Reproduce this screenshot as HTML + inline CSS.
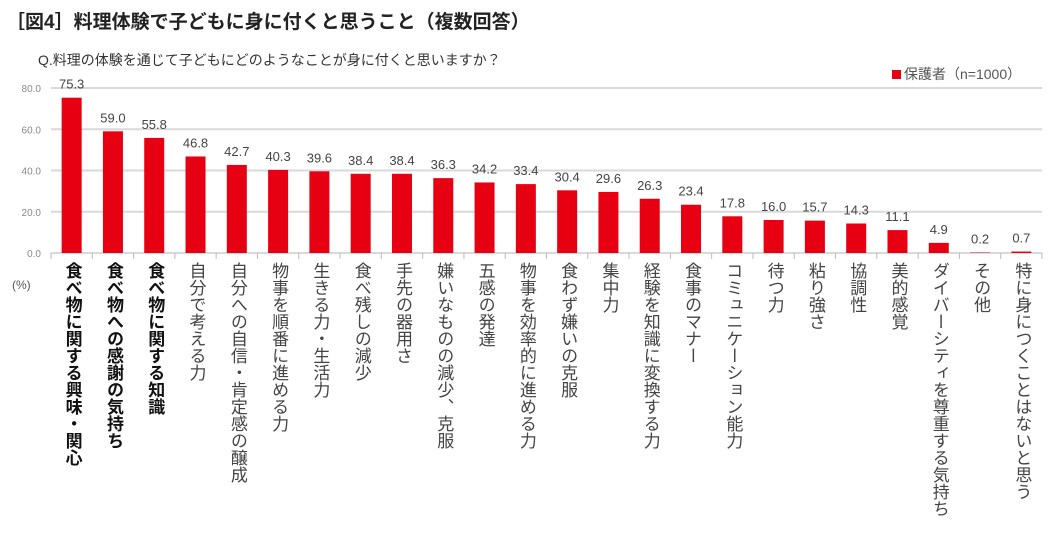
<!DOCTYPE html>
<html><head><meta charset="utf-8"><style>
body{margin:0;background:#fff;width:1064px;height:555px;overflow:hidden;font-family:"Liberation Sans","Noto Sans CJK JP",sans-serif;}
#title{position:absolute;left:6px;top:7px;font-size:19px;font-weight:bold;color:#222;}
#sub{position:absolute;left:38px;top:50px;font-size:14px;color:#333;}
#legend{position:absolute;left:892px;top:64px;font-size:14px;color:#555;}
#legend span{display:inline-block;width:9px;height:9px;background:#e60012;margin-right:3px;}
.lab{position:absolute;top:262px;writing-mode:vertical-rl;font-size:17px;line-height:20px;color:#444;white-space:nowrap;}
.lab.b{font-weight:bold;color:#111;}
</style></head><body>
<div id="title">［図4］料理体験で子どもに身に付くと思うこと（複数回答）</div>
<div id="sub">Q.料理の体験を通じて子どもにどのようなことが身に付くと思いますか？</div>
<div id="legend"><span></span>保護者（n=1000）</div>
<svg id="chart" width="1064" height="555" style="position:absolute;left:0;top:0"></svg>
<div id="labs"></div>
<script>
const categories=["食べ物に関する興味・関心","食べ物への感謝の気持ち","食べ物に関する知識","自分で考える力","自分への自信・肯定感の醸成","物事を順番に進める力","生きる力・生活力","食べ残しの減少","手先の器用さ","嫌いなものの減少、克服","五感の発達","物事を効率的に進める力","食わず嫌いの克服","集中力","経験を知識に変換する力","食事のマナー","コミュニケーション能力","待つ力","粘り強さ","協調性","美的感覚","ダイバーシティを尊重する気持ち","その他","特に身につくことはないと思う"];
const values=[75.3,59.0,55.8,46.8,42.7,40.3,39.6,38.4,38.4,36.3,34.2,33.4,30.4,29.6,26.3,23.4,17.8,16.0,15.7,14.3,11.1,4.9,0.2,0.7];
const yTicks=[0,20,40,60,80];
const NS="http://www.w3.org/2000/svg";
const svg=document.getElementById('chart');
const x0=51,x1=1042,yb=253,yt=88,ymax=80;
const bw=(x1-x0)/categories.length;
const y=v=>yb-(v/ymax)*(yb-yt);
const xc=i=>x0+bw*(i+0.5);
function mk(t,a){const e=document.createElementNS(NS,t);for(const k in a)e.setAttribute(k,a[k]);svg.appendChild(e);return e;}
yTicks.forEach(t=>{
 const l=mk('line',{x1:x0,x2:x1,y1:y(t),y2:y(t),stroke:'#d9d9d9','stroke-width':2});
 
 
 const tx=mk('text',{x:41,y:y(t)+4,'text-anchor':'end','font-size':10,fill:'#888','font-family':'Liberation Sans'});
 tx.textContent=t.toFixed(1);
 
 
});
for(let i=0;i<=categories.length;i++){
 const l=mk('line',{x1:x0+bw*i,x2:x0+bw*i,y1:yb,y2:yb+6,stroke:'#bbb','stroke-width':1});
 
 
}
const labs=document.getElementById('labs');
values.forEach((v,i)=>{
 const r=mk('rect',{x:xc(i)-10,y:y(v),width:20,height:yb-y(v),fill:'#e60012'});
 
 
 const t=mk('text',{x:xc(i),y:y(v)-9,'text-anchor':'middle','font-size':13,fill:'#444','font-family':'Liberation Sans'});
 t.textContent=v.toFixed(1);
 
 
 const d=document.createElement('div');
 d.className='lab'+(i<3?' b':'');
 d.style.left=(xc(i)-10)+'px';
 d.textContent=categories[i];
 
 
 labs.appendChild(d);
});
const p=mk('text',{x:12,y:289,'font-size':12,fill:'#555','font-family':'Liberation Sans'});
p.textContent='(%)';


</script>
</body></html>
